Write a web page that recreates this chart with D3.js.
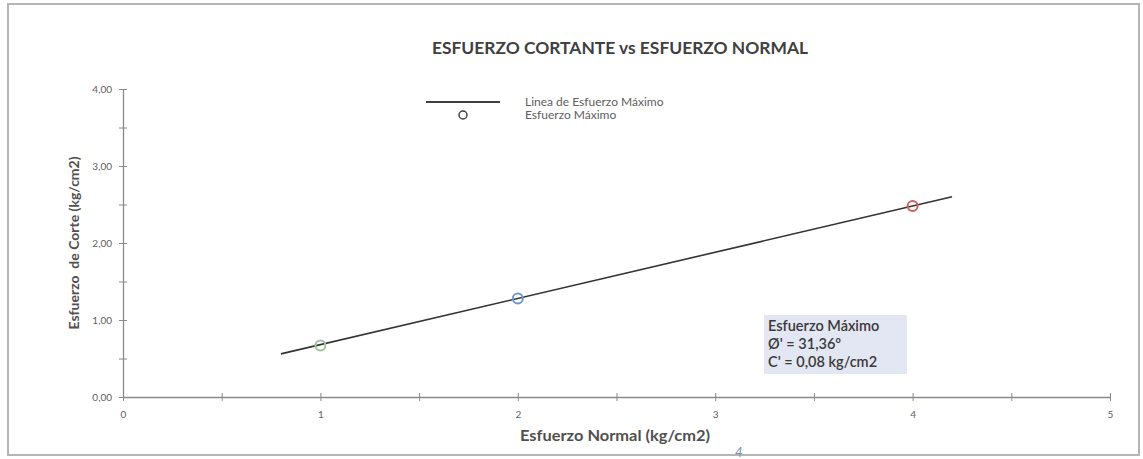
<!DOCTYPE html>
<html><head><meta charset="utf-8">
<script src="https://cdn.jsdelivr.net/npm/d3@7"></script>
<style>
html,body{margin:0;padding:0;background:#fff;}
svg{display:block;font-family:Lato,"Open Sans",sans-serif;}
</style></head>
<body>
<svg id="chart" width="1143" height="459"></svg>
<script>
// ---- data ----
const xTicks = [0, 1, 2, 3, 4, 5];
const yTicks = [0, 1, 2, 3, 4];
const xMinor = [0.5, 1.5, 2.5, 3.5, 4.5];
const yMinor = [0.5, 1.5, 2.5, 3.5];
const pointX = [1, 2, 4];
const pointY = [0.67, 1.28, 2.48];
const pointColors = ["#9fc49a", "#6f97c8", "#d0605c"];
const lineX = [0.8, 4.2];
const lineY = [0.56, 2.60];
const boxLines = ["Esfuerzo Máximo", "Ø' = 31,36º", "C' = 0,08 kg/cm2"];

const svg = d3.select("#chart");
const x = d3.scaleLinear().domain([0, 5]).range([123, 1110]);
const y = d3.scaleLinear().domain([0, 4]).range([397, 89]);

// frame
svg.append("rect").attr("x", 8).attr("y", 4).attr("width", 1131).attr("height", 451)
  .attr("fill", "none").attr("stroke", "#b5b5b5").attr("stroke-width", 2);

// title
svg.append("text").attr("x", 620).attr("y", 54).attr("text-anchor", "middle")
  .attr("font-weight", "bold").attr("font-size", 17).attr("fill", "#404040")
  .attr("textLength", 376).attr("lengthAdjust", "spacingAndGlyphs")
  .text("ESFUERZO CORTANTE vs ESFUERZO NORMAL");

const axisColor = "#8a8a8a";
function styleAxis(g) {
  g.select(".domain").attr("stroke", axisColor).attr("stroke-width", 1.3);
  g.selectAll(".tick line").attr("stroke", axisColor).attr("stroke-width", 1);
  g.selectAll(".tick text").attr("fill", "#606060").attr("font-size", 10)
    .attr("font-family", "Lato, sans-serif");
}

// x axis
const xAxisG = svg.append("g").attr("transform", `translate(0,${y(0)})`)
  .call(d3.axisBottom(x).tickValues(xTicks).tickFormat(d3.format("d")).tickSizeInner(4).tickSizeOuter(0).tickPadding(10));
xAxisG.selectAll(".tick line").attr("y1", -4);
styleAxis(xAxisG);
const xMinorG = svg.append("g").attr("transform", `translate(0,${y(0)})`)
  .call(d3.axisBottom(x).tickValues(xMinor).tickFormat("").tickSizeInner(4).tickSizeOuter(0));
xMinorG.select(".domain").remove();
xMinorG.selectAll(".tick line").attr("y1", -4).attr("stroke", axisColor);

// y axis
const fmt = d => d3.format(".2f")(d).replace(".", ",");
const yAxisG = svg.append("g").attr("transform", `translate(${x(0)},0)`)
  .call(d3.axisLeft(y).tickValues(yTicks).tickFormat(fmt).tickSizeInner(4).tickSizeOuter(0).tickPadding(7));
yAxisG.selectAll(".tick line").attr("x1", 4);
styleAxis(yAxisG);
const yMinorG = svg.append("g").attr("transform", `translate(${x(0)},0)`)
  .call(d3.axisLeft(y).tickValues(yMinor).tickFormat("").tickSizeInner(4).tickSizeOuter(0));
yMinorG.select(".domain").remove();
yMinorG.selectAll(".tick line").attr("x1", 4).attr("stroke", axisColor);

// axis titles
svg.append("text").attr("x", 615).attr("y", 441).attr("text-anchor", "middle")
  .attr("font-weight", "bold").attr("font-size", 15).attr("fill", "#505050")
  .attr("textLength", 190).attr("lengthAdjust", "spacingAndGlyphs")
  .text("Esfuerzo Normal (kg/cm2)");
svg.append("text").attr("transform", `translate(79,${y(2)}) rotate(-90)`).attr("text-anchor", "middle")
  .attr("font-size", 14).attr("fill", "#505050").attr("font-weight", "bold")
  .style("white-space", "pre")
  .text("Esfuerzo  de Corte (kg/cm2)");

// fitted line
const lineData = lineX.map((v, i) => [v, lineY[i]]);
svg.append("path").datum(lineData)
  .attr("d", d3.line().x(d => x(d[0])).y(d => y(d[1])))
  .attr("stroke", "#333").attr("stroke-width", 1.6).attr("fill", "none");

// points
svg.selectAll("circle.pt").data(pointX.map((v, i) => ({x: v, y: pointY[i], c: pointColors[i]})))
  .enter().append("circle").attr("class", "pt")
  .attr("cx", d => x(d.x)).attr("cy", d => y(d.y)).attr("r", 5)
  .attr("fill", "none").attr("stroke", d => d.c).attr("stroke-width", 2);

// legend
svg.append("line").attr("x1", 426).attr("x2", 500).attr("y1", 102).attr("y2", 102)
  .attr("stroke", "#404040").attr("stroke-width", 2);
svg.append("circle").attr("cx", 463).attr("cy", 115).attr("r", 4)
  .attr("fill", "none").attr("stroke", "#404040").attr("stroke-width", 1.5);
svg.append("text").attr("x", 525).attr("y", 106).attr("font-size", 12).attr("fill", "#606060")
  .text("Linea de Esfuerzo Máximo");
svg.append("text").attr("x", 525).attr("y", 119).attr("font-size", 12).attr("fill", "#606060")
  .text("Esfuerzo Máximo");

// annotation box
svg.append("rect").attr("x", 764).attr("y", 315).attr("width", 143).attr("height", 59)
  .attr("fill", "#e3e6f3");
svg.selectAll("text.box").data(boxLines).enter().append("text").attr("class", "box")
  .attr("x", 768).attr("y", (d, i) => 331 + i * 18).attr("font-size", 14.5)
  .attr("fill", "#3a3a3a").attr("font-weight", "600").text(d => d);

// handwritten mark
svg.append("text").attr("x", 735).attr("y", 457).attr("font-size", 13).attr("font-style", "italic")
  .attr("fill", "#7f8fb0").text("4");
</script>
</body></html>
